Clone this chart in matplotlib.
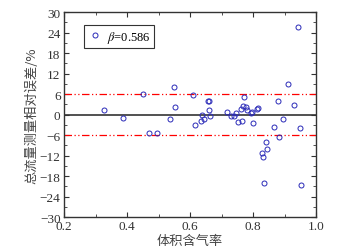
import matplotlib
matplotlib.use("Agg")
import matplotlib.pyplot as plt
from matplotlib.ticker import MultipleLocator

plt.rcParams['font.family'] = ['Liberation Serif', 'Noto Sans CJK SC']
plt.rcParams['mathtext.fontset'] = 'stix'

# gas volume fraction vs relative error of total flow (%)
gvf = [0.326, 0.388, 0.452, 0.469, 0.495, 0.538, 0.548, 0.552, 0.611, 0.617,
       0.637, 0.636, 0.643, 0.656, 0.661, 0.661, 0.665, 0.719, 0.730, 0.741,
       0.745, 0.751, 0.761, 0.765, 0.769, 0.771, 0.777, 0.780, 0.794, 0.798,
       0.801, 0.812, 0.817, 0.830, 0.832, 0.836, 0.840, 0.846, 0.868, 0.878,
       0.884, 0.895, 0.911, 0.931, 0.943, 0.950, 0.951]
err = [1.3, -1.0, 5.9, -5.4, -5.4, -1.4, 8.0, 2.1, 5.6, -3.1,
       -0.1, -1.9, -1.3, 3.9, 3.9, 1.2, -0.5, 0.8, -0.3, -0.5,
       0.4, -2.2, 1.6, -1.9, 2.6, 5.2, 2.3, 1.3, 0.3, 0.8,
       -2.5, 1.5, 1.8, -11.2, -12.4, -19.9, -8.1, -10.1, -3.8, 3.9,
       -6.5, -1.2, 8.8, 2.9, 25.7, -4.0, -20.6]
limit = 6

fig = plt.figure(figsize=(3.41, 2.53), dpi=100)
ax = fig.add_axes([0.1877, 0.1383, 0.739, 0.8103])

ax.axhline(limit, color='red', ls=(0, (6, 2, 1, 2, 1, 2)), lw=0.9)
ax.axhline(-limit, color='red', ls=(0, (6, 2, 1, 2, 1, 2)), lw=0.9)
ax.axhline(0, color='#333333', lw=1.2)
ax.plot(gvf, err, 'o', mfc='none', mec='#2a2ab8', ms=3.6, mew=0.7,
        label=r'$\beta$=0.586')

ax.set_xlim(0.2, 1.0)
ax.set_ylim(-30, 30)
ax.xaxis.set_major_locator(MultipleLocator(0.2))
ax.xaxis.set_minor_locator(MultipleLocator(0.1))
ax.yaxis.set_major_locator(MultipleLocator(6))
ax.yaxis.set_minor_locator(MultipleLocator(3))
ax.tick_params(which='both', direction='in', top=True, right=True,
               labelsize=9.5, colors='#333333', pad=2.5)
ax.tick_params(which='major', length=3.5, width=0.8)
ax.tick_params(which='minor', length=2, width=0.6)
ax.set_xticklabels([f'{v:.1f}' for v in ax.get_xticks()])
for s in ax.spines.values():
    s.set_linewidth(1.0)
    s.set_color('#333333')

ax.set_xlabel('体积含气率', fontsize=9.5, color='#444444', labelpad=1,
              family=['Noto Sans CJK SC'])
ax.set_ylabel('总流量测量相对误差/%', fontsize=9.5, color='#444444', labelpad=1,
              family=['Noto Sans CJK SC', 'DejaVu Sans'])

leg = ax.legend(loc='upper left', bbox_to_anchor=(0.055, 0.965), fontsize=9,
                fancybox=False, edgecolor='#333333', handletextpad=0.3,
                borderpad=0.25, handlelength=1.3, framealpha=1)
leg.get_frame().set_linewidth(0.8)

fig.savefig('out.png', dpi=100)
